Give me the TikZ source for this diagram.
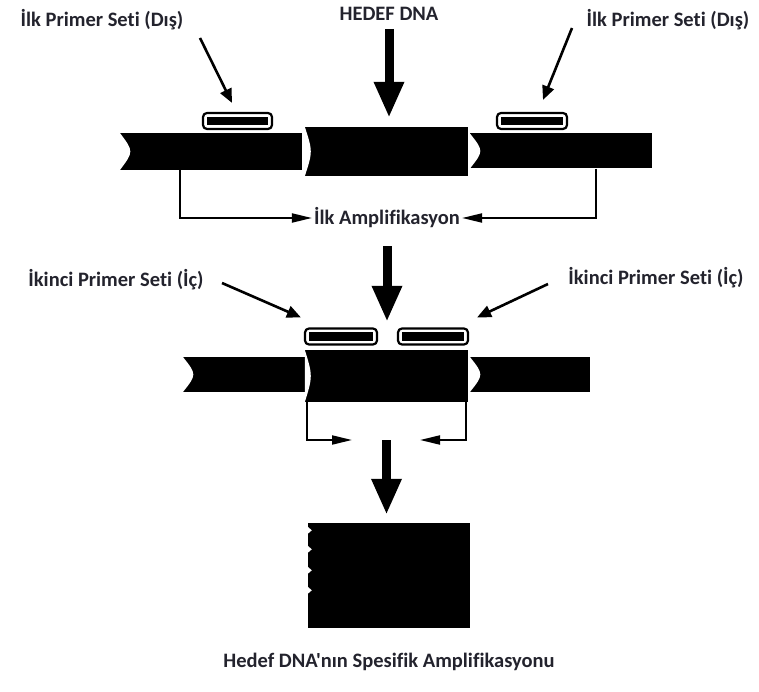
\documentclass[tikz,border=0pt]{standalone}
\usepackage{fontspec}
\setmainfont[Ligatures={TeXOff,NoCommon}]{Carlito}
\usepackage{tikz}
\usetikzlibrary{arrows.meta,positioning,calc}
\definecolor{labelgray}{RGB}{35,35,45}

\begin{document}
\begin{tikzpicture}[x=1pt,y=1pt,
    lbl/.style={font=\fontsize{20.5}{24}\selectfont\bfseries, text=labelgray, inner sep=0pt},
    strand/.style={rectangle, fill=black, inner sep=0pt},
    primer/.style={rectangle, draw=black, line width=2.2pt, rounded corners=4pt,
                   fill=white, inner sep=0pt, minimum height=16pt},
    bigarrow/.style={line width=9pt, -{Triangle[length=36pt,width=28pt]}},
    thinarrow/.style={line width=2.6pt, -{Triangle[length=14pt,width=12pt]}},
    link/.style={line width=2pt, -{Triangle[length=20pt,width=9pt]}}]
    \useasboundingbox (0,0) rectangle (759,691);

    % labels at the top
    \node[lbl] (hedef) at (389,677) {HEDEF DNA};
    \node[lbl] (outerL) at (102,671) {İlk Primer Seti (Dış)};
    \node[lbl] (outerR) at (668,671) {İlk Primer Seti (Dış)};

    % first round: template with outer primers
    \node[strand, minimum width=182pt, minimum height=37pt] (s1L) at (211,539.5) {};
    \node[strand, minimum width=163pt, minimum height=49pt] (m1) at (386.5,539.5) {};
    \node[strand, minimum width=182pt, minimum height=35pt] (s1R) at (561,540) {};
    \node[primer, minimum width=69pt] (pA) at (237.5,570) {};
    \node[primer, minimum width=70pt] (pB) at (532,570) {};
    \node[lbl] (amp1) at (387,473) {İlk Amplifikasyon};

    % second round: inner primers
    \node[lbl] (innerL) at (116,411) {İkinci Primer Seti (İç)};
    \node[lbl] (innerR) at (656,413) {İkinci Primer Seti (İç)};
    \node[strand, minimum width=122pt, minimum height=35pt] (s2L) at (244,316.5) {};
    \node[strand, minimum width=163pt, minimum height=52pt] (m2) at (386.5,315) {};
    \node[strand, minimum width=120pt, minimum height=35pt] (s2R) at (530,316.5) {};
    \node[primer, minimum width=72pt] (pC) at (341,354.5) {};
    \node[primer, minimum width=70pt] (pD) at (433,354.5) {};
    \coordinate (jL) at (352,251);
    \coordinate (jR) at (420,251);

    % product
    \node[strand, minimum width=162pt, minimum height=105pt] (fin) at (389,115.5) {};
    \node[lbl] (result) at (389,29) {Hedef DNA'nın Spesifik Amplifikasyonu};

    % primer bars and cut ends
    \foreach \p in {pA,pB,pC,pD}
        \fill ($(\p.north west)+(5,-5)$) rectangle ($(\p.south east)+(-5,5)$);
    \foreach \s/\d in {s1L/14,m1/8,s1R/14,s2L/14,m2/8,s2R/14}
        \fill[white] (\s.north west) .. controls ($(\s.west)+(\d,0)$) .. (\s.south west) -- cycle;
    \foreach \k in {4,23,44,64}
        \fill[white] ([yshift=-\k pt]fin.north west) -- ++(4,-3.5) -- ++(-4,-3.5) -- cycle;

    % arrows
    \draw[bigarrow, shorten <=8pt, shorten >=9pt] (hedef.south) -- (hedef.south |- m1.north);
    \draw[bigarrow, shorten <=18pt, shorten >=28pt] (amp1.south) -- (amp1.south |- m2.north);
    \draw[bigarrow, shorten <=38pt, shorten >=8pt] (m2.south) -- (m2.south |- fin.north);
    \draw[thinarrow] ([shift={(98pt,-18pt)}]outerL.center) -- ([shift={(-5.5pt,9pt)}]pA.north);
    \draw[thinarrow] ([shift={(-96pt,-8pt)}]outerR.center) -- ([shift={(11pt,12pt)}]pB.north);
    \draw[thinarrow] ([shift={(106pt,-3pt)}]innerL.center) -- ([shift={(-3pt,10pt)}]pC.north west);
    \draw[thinarrow] ([shift={(-108pt,-6pt)}]innerR.center) -- ([shift={(8pt,10pt)}]pD.north east);
    \draw[link, shorten >=2pt] ([xshift=60pt]s1L.south west) |- (amp1.west);
    \draw[link, shorten >=2pt] ([xshift=-56pt]s1R.south east) |- (amp1.east);
    \draw[link] ([xshift=2pt]m2.south west) |- (jL);
    \draw[link] ([xshift=-2pt]m2.south east) |- (jR);
\end{tikzpicture}
\end{document}
